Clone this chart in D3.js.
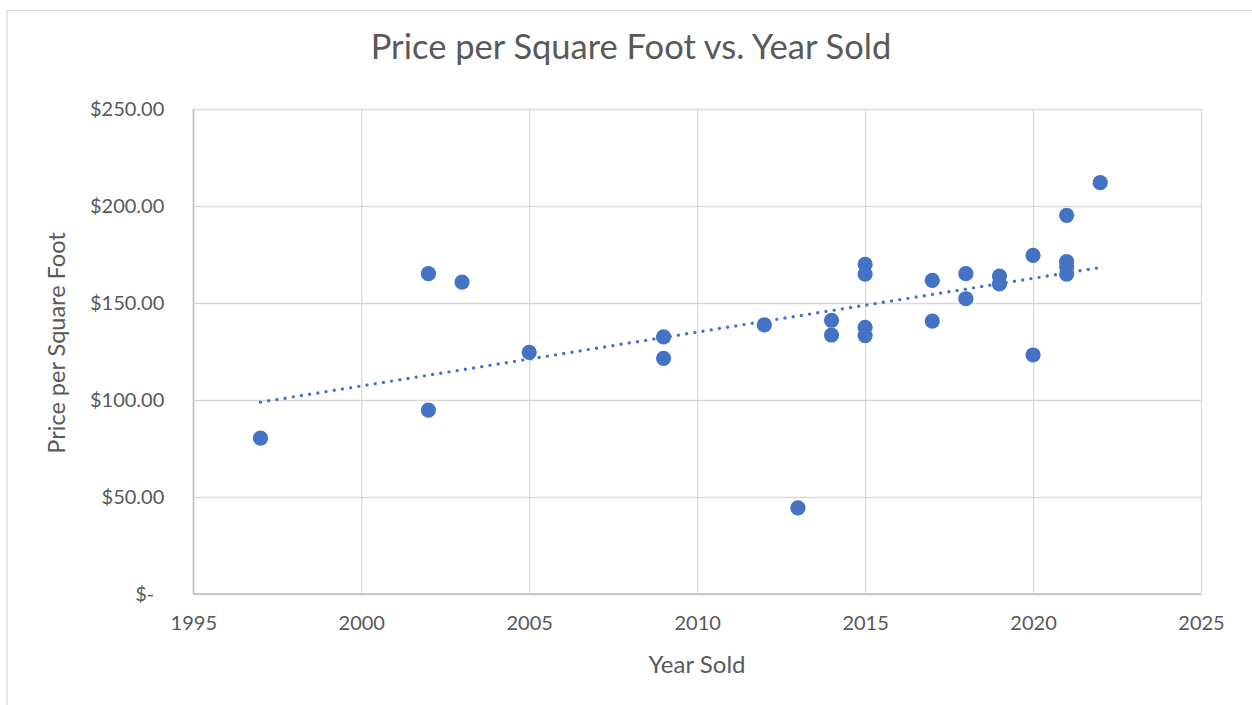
<!DOCTYPE html>
<html>
<head>
<meta charset="utf-8">
<script src="https://cdn.jsdelivr.net/npm/d3@7"></script>
<style>
  html, body { margin: 0; padding: 0; background: #ffffff; }
  svg { display: block; }
  text { font-family: Lato, "Open Sans", sans-serif; fill: #595959; }
</style>
</head>
<body>
<svg id="chart" width="1252" height="705"></svg>
<script>
// Sales: year sold and price per square foot
const yearsSold = [1997, 2002, 2002, 2003, 2005, 2009, 2009, 2012, 2013, 2014, 2014,
  2015, 2015, 2015, 2015, 2017, 2017, 2018, 2018, 2019, 2019, 2020, 2020,
  2021, 2021, 2021, 2021, 2022];
const pricePerSqFt = [80.3, 165.1, 94.8, 160.8, 124.6, 132.5, 121.5, 138.7, 44.4, 141.1, 133.5,
  169.9, 164.9, 137.5, 133.2, 161.7, 140.7, 165.1, 152.2, 163.9, 159.8, 174.6, 123.2,
  195.2, 171.3, 168.5, 164.9, 212.0];

const xTicks = [1995, 2000, 2005, 2010, 2015, 2020, 2025];
const yTicks = [0, 50, 100, 150, 200, 250];

const titleText = "Price per Square Foot vs. Year Sold";
const xTitle = "Year Sold";
const yTitle = "Price per Square Foot";

const W = 1252, H = 705;
const plot = { left: 193.3, right: 1201, top: 109, bottom: 594 };
const blue = "#4472C4";

const svg = d3.select("#chart");

// chart frame
svg.append("rect")
  .attr("x", 7).attr("y", 10.5)
  .attr("width", W + 10).attr("height", H + 10)
  .attr("fill", "#ffffff").attr("stroke", "#d9d9d9").attr("stroke-width", 1.3);

const x = d3.scaleLinear().domain([1995, 2025]).range([plot.left, plot.right]);
const y = d3.scaleLinear().domain([0, 250]).range([plot.bottom, plot.top]);

// horizontal gridlines + y labels
const yAxis = svg.append("g")
  .attr("transform", `translate(${plot.left},0)`)
  .call(d3.axisLeft(y)
    .tickValues(yTicks)
    .tickSize(-(plot.right - plot.left))
    .tickPadding(29)
    .tickFormat(d => d === 0 ? "$-" : "$" + d3.format(",.2f")(d)));
yAxis.select(".domain").remove();
yAxis.selectAll(".tick line")
  .attr("stroke", "#d9d9d9").attr("stroke-width", 1.3);
yAxis.selectAll(".tick text")
  .style("font-size", "20px").attr("fill", "#595959")
  .attr("dx", d => d === 0 ? -10 : 0);

// vertical gridlines + x labels
const xAxis = svg.append("g")
  .attr("transform", `translate(0,${plot.bottom})`)
  .call(d3.axisBottom(x)
    .tickValues(xTicks)
    .tickSize(-(plot.bottom - plot.top))
    .tickPadding(22)
    .tickFormat(d3.format("d")));
xAxis.select(".domain").remove();
xAxis.selectAll(".tick line")
  .attr("stroke", "#d9d9d9").attr("stroke-width", 1.3);
xAxis.selectAll(".tick text")
  .style("font-size", "20px").attr("fill", "#595959");

// axis lines
svg.append("line")
  .attr("x1", plot.left).attr("x2", plot.right)
  .attr("y1", y(0)).attr("y2", y(0))
  .attr("stroke", "#bfbfbf").attr("stroke-width", 1.3);
svg.append("line")
  .attr("x1", x(1995)).attr("x2", x(1995))
  .attr("y1", plot.top).attr("y2", plot.bottom)
  .attr("stroke", "#bfbfbf").attr("stroke-width", 1.3);

// scatter points
const pts = yearsSold.map((yr, i) => ({ yr, p: pricePerSqFt[i] }));
svg.append("g").selectAll("circle")
  .data(pts).join("circle")
  .attr("cx", d => x(d.yr))
  .attr("cy", d => y(d.p))
  .attr("r", 7.6)
  .attr("fill", blue);

// least-squares linear trendline
const mx = d3.mean(yearsSold), my = d3.mean(pricePerSqFt);
const sxy = d3.sum(pts, d => (d.yr - mx) * (d.p - my));
const sxx = d3.sum(pts, d => (d.yr - mx) ** 2);
const slope = sxy / sxx, intercept = my - slope * mx;
const [x0, x1] = d3.extent(yearsSold);
svg.append("path")
  .datum([x0, x1])
  .attr("d", d3.line().x(d => x(d)).y(d => y(intercept + slope * d)))
  .attr("fill", "none")
  .attr("stroke", blue)
  .attr("stroke-width", 3.4)
  .attr("stroke-linecap", "round")
  .attr("stroke-dasharray", "0 8.3");

// titles
svg.append("text")
  .attr("x", 631).attr("y", 59)
  .attr("text-anchor", "middle")
  .style("font-size", "34.5px")
  .text(titleText);

svg.append("text")
  .attr("x", 697).attr("y", 673)
  .attr("text-anchor", "middle")
  .style("font-size", "24px")
  .text(xTitle);

svg.append("text")
  .attr("transform", `translate(65,343) rotate(-90)`)
  .attr("text-anchor", "middle")
  .style("font-size", "23.5px")
  .text(yTitle);
</script>
</body>
</html>
